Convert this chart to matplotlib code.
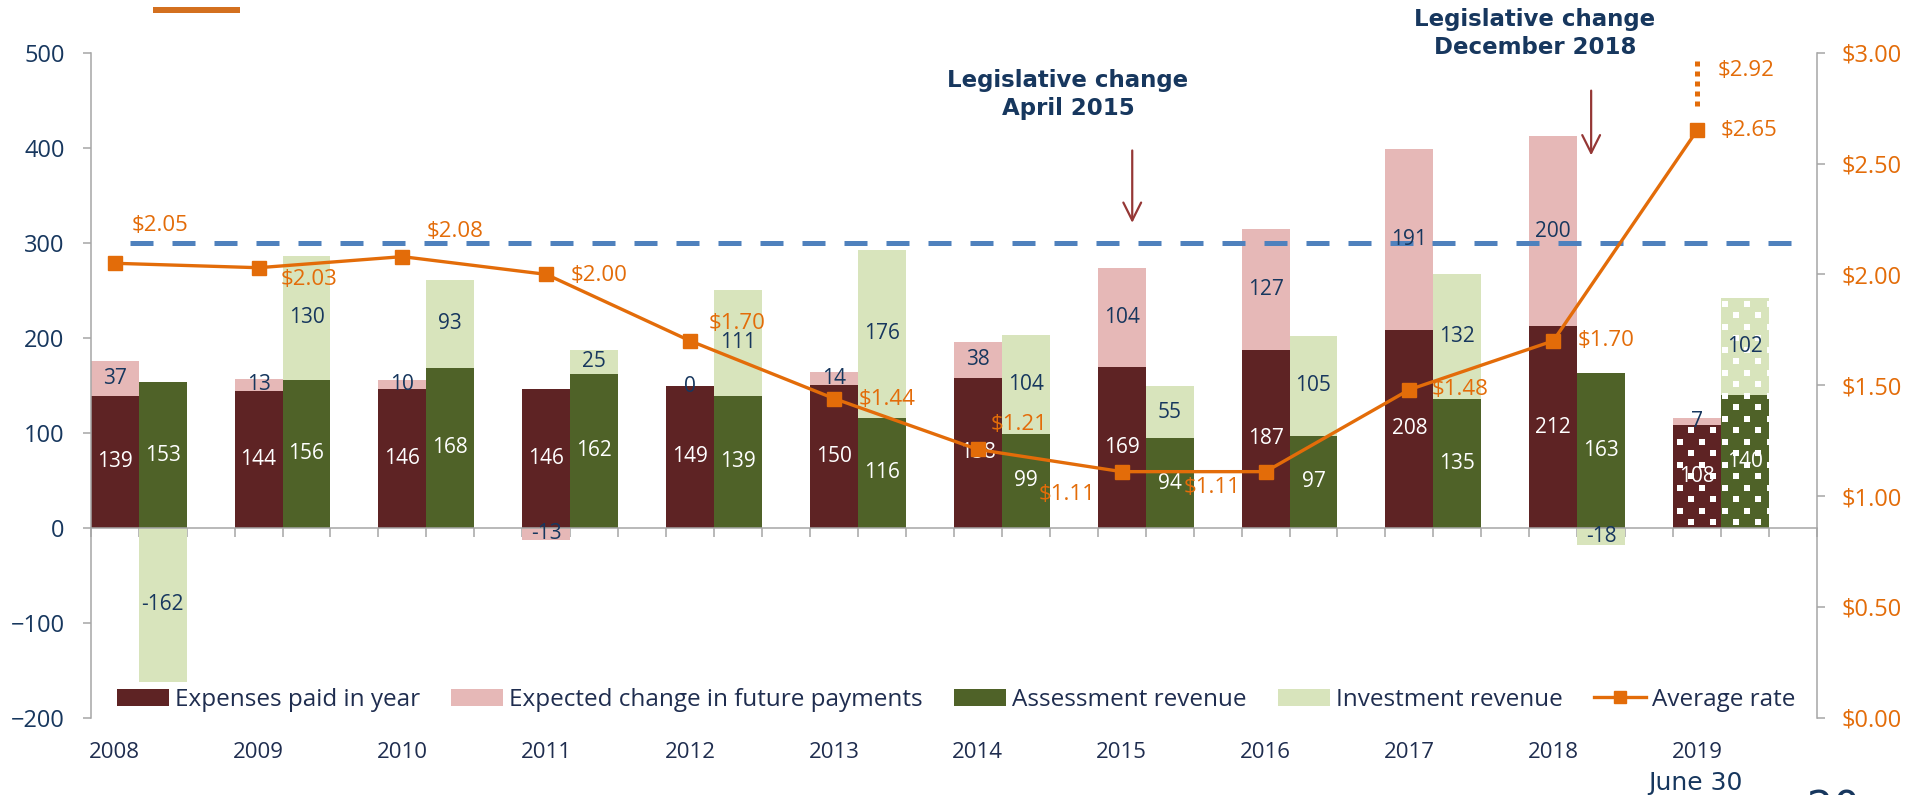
import numpy as np
import matplotlib
matplotlib.use("Agg")
import matplotlib.pyplot as plt
from matplotlib.patches import Patch, Rectangle
from matplotlib.lines import Line2D
from matplotlib.ticker import FuncFormatter, MultipleLocator
from matplotlib.transforms import blended_transform_factory

plt.rcParams["font.family"] = ["Open Sans", "DejaVu Sans"]

# Data (millions / $ per $100 payroll)
years = ["2008", "2009", "2010", "2011", "2012", "2013",
         "2014", "2015", "2016", "2017", "2018", "2019"]
expenses_paid = [139, 144, 146, 146, 149, 150, 158, 169, 187, 208, 212, 108]
expected_change = [37, 13, 10, -13, 0, 14, 38, 104, 127, 191, 200, 7]
assessment_rev = [153, 156, 168, 162, 139, 116, 99, 94, 97, 135, 163, 140]
investment_rev = [-162, 130, 93, 25, 111, 176, 104, 55, 105, 132, -18, 102]
avg_rate = [2.05, 2.03, 2.08, 2.00, 1.70, 1.44, 1.21, 1.11, 1.11, 1.48, 1.70, 2.65]
rate_2019_high = 2.92
target_level = 300

# label offsets for the rate line (pixels from marker)
rate_label_offsets = [(45, 38), (50, -12), (53, 25), (53, -1), (47, 17), (53, -1),
                      (41, 25), (-55, -23), (-53, -16), (51, 0), (53, 0), (52, 0)]

# Colours
C_EXP = "#5E2324"
C_CHG = "#E6B8B7"
C_ASM = "#4F6228"
C_INV = "#D8E4BC"
C_RATE = "#E36C09"
C_TGT = "#4F81BD"
C_NAVY = "#17375E"
C_TXT = "#1F2D4F"
C_AXIS = "#A6A6A6"
C_ARROW = "#953735"

W, H = 1909, 795
fig = plt.figure(figsize=(W / 100, H / 100), dpi=100)
ax = fig.add_axes([90.7 / W, 1 - 717.7 / H, (1817 - 90.7) / W, (717.7 - 52.7) / H])
ax2 = ax.twinx()

n = len(years)
x_exp = np.arange(n) * 3 + 0.5
x_rev = x_exp + 1

exp = np.array(expenses_paid)
chg = np.array(expected_change)
asm = np.array(assessment_rev)
inv = np.array(investment_rev)

chg_bottom = np.where(chg >= 0, exp, 0)
inv_bottom = np.where(inv >= 0, asm, 0)

b_exp = ax.bar(x_exp, exp, width=1.0, color=C_EXP, lw=0, zorder=2)
b_chg = ax.bar(x_exp, chg, width=1.0, bottom=chg_bottom, color=C_CHG, lw=0, zorder=2)
b_asm = ax.bar(x_rev, asm, width=1.0, color=C_ASM, lw=0, zorder=2)
b_inv = ax.bar(x_rev, inv, width=1.0, bottom=inv_bottom, color=C_INV, lw=0, zorder=2)

# 2019 is a partial (June 30) year -> white square-dot fill, staggered grid
dot_dx, dot_dy = 0.47, 12.1
for bars in (b_exp, b_asm, b_inv):
    p = bars[-1]
    x0, y0 = p.get_x(), p.get_y()
    x1, y1 = x0 + p.get_width(), y0 + p.get_height()
    xs, ys = [], []
    for r in range(int(np.floor(y0 / dot_dy)) - 1, int(np.ceil(y1 / dot_dy)) + 1):
        shift = 0 if r % 2 == 0 else dot_dx / 2
        cols = np.arange(np.floor(x0 / dot_dx) - 1, np.ceil(x1 / dot_dx) + 1) * dot_dx + shift
        xs.extend(cols)
        ys.extend([r * dot_dy + 6] * len(cols))
    dots, = ax.plot(xs, ys, "s", color="white", ms=3.8, mew=0, zorder=2.5)
    dots.set_clip_path(p)

# data labels
for i in range(n):
    ax.text(x_exp[i], exp[i] / 2, str(exp[i]), color="white", fontsize=15,
            ha="center", va="center", zorder=4)
    ax.text(x_exp[i], chg_bottom[i] + chg[i] / 2, str(chg[i]), color=C_NAVY,
            fontsize=15, ha="center", va="center", zorder=4)
    ax.text(x_rev[i], asm[i] / 2, str(asm[i]), color="white", fontsize=15,
            ha="center", va="center", zorder=4)
    ax.text(x_rev[i], inv_bottom[i] + inv[i] / 2, str(inv[i]), color=C_NAVY,
            fontsize=15, ha="center", va="center", zorder=4)

# reference dashed line
ax.hlines(target_level, 0.82, 35.48, colors=C_TGT, lw=3.6,
          linestyles=[(0, (4.6, 3.8))], zorder=3)

ax.set_xlim(0, 3 * n)
ax.set_ylim(-200, 500)
ax.yaxis.set_major_locator(MultipleLocator(100))
ax.set_xticks(np.arange(3 * n + 1))
ax.set_xticklabels([])
ax.spines["top"].set_visible(False)
ax.spines["right"].set_visible(False)
ax.spines["bottom"].set_position(("data", 0))
for s in ("left", "bottom"):
    ax.spines[s].set_color(C_AXIS)
    ax.spines[s].set_linewidth(1.1)
ax.tick_params(axis="y", colors=C_AXIS, labelcolor=C_NAVY, labelsize=17,
               length=5.8, width=1.1, pad=13)
ax.tick_params(axis="x", colors=C_AXIS, length=6.5, width=1.1)

trans = blended_transform_factory(ax.transData, ax.transAxes)
for i, yr in enumerate(years):
    ax.text(x_exp[i], -0.053, yr, transform=trans, ha="center", va="center",
            fontsize=16, color=C_TXT)

# rate line on secondary axis
ax2.plot(x_exp, avg_rate, color=C_RATE, lw=2.4, marker="s", ms=10.5, zorder=5)
ax2.vlines(x_exp[-1], avg_rate[-1] + 0.11, rate_2019_high + 0.065, colors=C_RATE,
           lw=3.6, linestyles=[(0, (1, 1))])
for i, r in enumerate(avg_rate):
    dx, dy = rate_label_offsets[i]
    ax2.annotate(f"${r:.2f}", (x_exp[i], r), xytext=(dx, dy),
                 textcoords="offset pixels", ha="center", va="center",
                 fontsize=16, color=C_RATE)
ax2.annotate(f"${rate_2019_high:.2f}", (x_exp[-1], rate_2019_high), xytext=(49, 0),
             textcoords="offset pixels", ha="center", va="center",
             fontsize=16, color=C_RATE)

ax2.set_ylim(0, 3)
ax2.yaxis.set_major_locator(MultipleLocator(0.5))
ax2.yaxis.set_major_formatter(FuncFormatter(lambda v, p: f"${v:.2f}"))
for s in ("top", "left", "bottom"):
    ax2.spines[s].set_visible(False)
ax2.spines["right"].set_color(C_AXIS)
ax2.spines["right"].set_linewidth(1.1)
ax2.tick_params(axis="y", colors=C_AXIS, labelcolor=C_RATE, labelsize=17,
                length=5.8, width=1.1, pad=12)

# legislative change annotations
for x_txt, y_txt, x_arr, y0, y1, label in [
    (20.38, 456, 21.72, 400, 318, "Legislative change\nApril 2015"),
    (30.12, 520, 31.29, 463, 389, "Legislative change\nDecember 2018"),
]:
    ax.text(x_txt, y_txt, label, ha="center", va="center", fontsize=16.5,
            fontweight="bold", color=C_NAVY, family="DejaVu Sans",
            linespacing=1.25, clip_on=False)
    ax.annotate("", xy=(x_arr, y1), xytext=(x_arr, y0),
                arrowprops=dict(arrowstyle="->", color=C_ARROW, lw=1.6,
                                mutation_scale=32), annotation_clip=False)

# legend
handles = [
    Patch(facecolor=C_EXP, label="Expenses paid in year"),
    Patch(facecolor=C_CHG, label="Expected change in future payments"),
    Patch(facecolor=C_ASM, label="Assessment revenue"),
    Patch(facecolor=C_INV, label="Investment revenue"),
    Line2D([], [], color=C_RATE, lw=2.4, marker="s", ms=8, label="Average rate"),
]
leg = fig.legend(handles=handles, loc="center left", ncol=5, frameon=False,
                 bbox_to_anchor=(117 / W, 1 - 700 / H), borderpad=0,
                 fontsize=17.5, handlelength=2.14, handletextpad=0.25,
                 columnspacing=1.28, borderaxespad=0)
for t in leg.get_texts():
    t.set_color(C_TXT)

# extras around the chart
fig.add_artist(Rectangle((153 / W, 1 - 12.7 / H), 87 / W, 5.7 / H,
                         transform=fig.transFigure, color="#D3701F", lw=0))
fig.text(1695 / W, 1 - 790 / H, "June 30", ha="center", va="baseline", fontsize=18,
         color=C_NAVY, family="DejaVu Sans")
# page number, cut by the bottom edge as in the slide
fig.text(1833 / W, 1 - 821 / H, "20", ha="center", va="baseline", fontsize=30,
         color=C_NAVY, family="DejaVu Sans")

fig.savefig("out.png", dpi=100)
